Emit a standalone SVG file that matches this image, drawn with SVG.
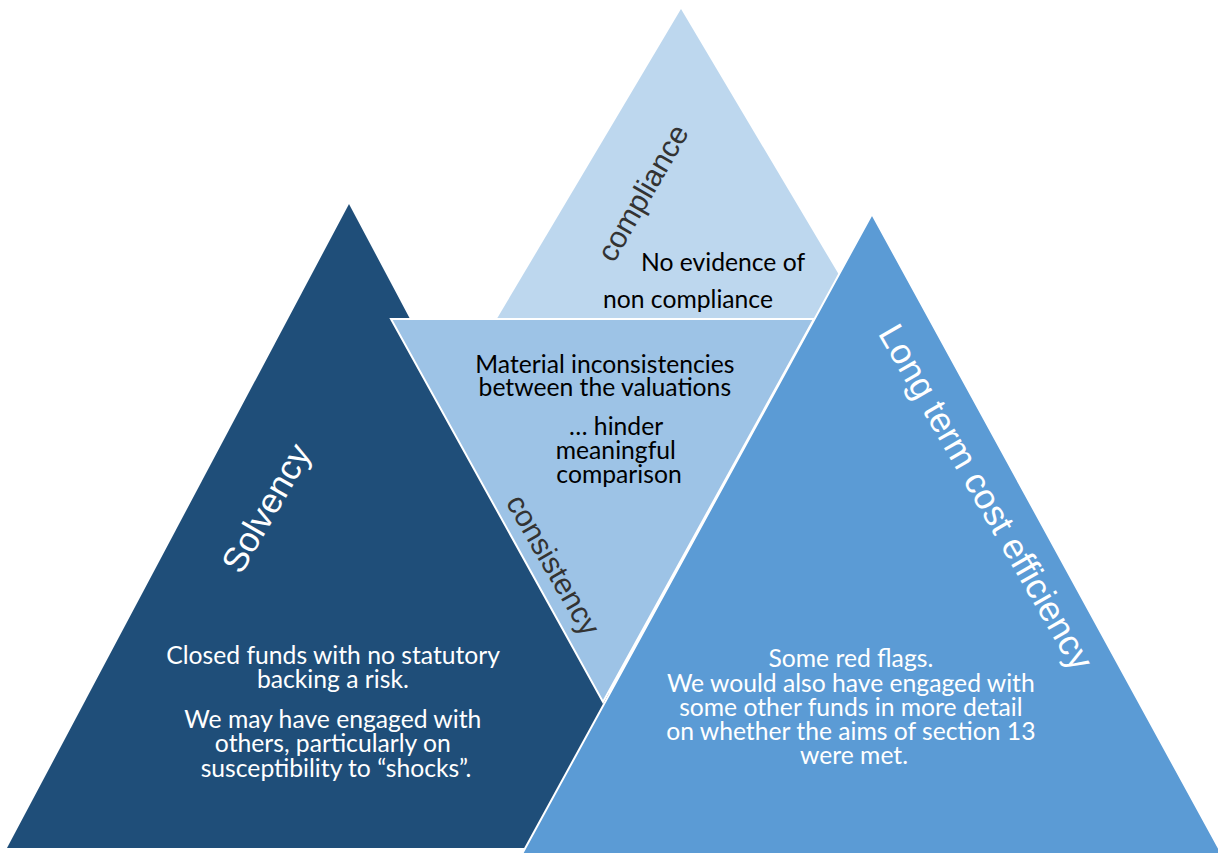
<svg xmlns="http://www.w3.org/2000/svg" width="1218" height="854" viewBox="0 0 1218 854">
  <style>
    .body { font-family: Lato, "Open Sans", "Noto Sans", sans-serif; font-size: 24.7px; text-anchor: middle; }
    .dark { fill: #000000; }
    .light { fill: #ffffff; }
    .label { font-family: "Liberation Sans", Arial, sans-serif; text-anchor: middle; }
    .edge { stroke: #ffffff; stroke-width: 2; stroke-linejoin: miter; }
  </style>
  <rect width="1218" height="854" fill="#ffffff"/>

  <!-- top peak: compliance -->
  <g id="node-compliance">
    <polygon points="681,9 489,332 873,332" fill="#bdd7ee"/>
    <text class="label" font-size="30" fill="#333333" transform="translate(643,193) rotate(-60)" y="10">compliance</text>
    <text class="body dark" x="723" y="271">No evidence of</text>
    <text class="body dark" x="688" y="308">non compliance</text>
  </g>

  <!-- left peak: solvency -->
  <g id="node-solvency">
    <polygon points="349,204 7,848 691,848" fill="#1f4e79"/>
    <text class="label" font-size="35" fill="#ffffff" transform="translate(266,508) rotate(-60)" y="12">Solvency</text>
    <text class="body light">
      <tspan x="336" y="664">Closed funds with no statutory</tspan>
      <tspan x="336" y="688">backing a risk.</tspan>
      <tspan x="336" y="728">We may have engaged with</tspan>
      <tspan x="336" y="752">others, particularly on</tspan>
      <tspan x="336" y="777">susceptibility to “shocks”.</tspan>
    </text>
  </g>

  <!-- inverted centre: consistency -->
  <g id="node-consistency">
    <polygon class="edge" points="391,319 814,319 603,702" fill="#9dc3e6"/>
    <text class="body dark">
      <tspan x="608" y="373">Material inconsistencies</tspan>
      <tspan x="608" y="396">between the valuations</tspan>
      <tspan x="619" y="435">… hinder</tspan>
      <tspan x="619" y="459">meaningful</tspan>
      <tspan x="619" y="483">comparison</tspan>
    </text>
    <text class="label" font-size="30" fill="#333333" transform="translate(553,565) rotate(60)" y="10">consistency</text>
  </g>

  <!-- right peak: long term cost efficiency -->
  <g id="node-cost-efficiency">
    <polygon class="edge" points="872,214 522,854 1222,854" fill="#5b9bd5"/>
    <text class="label" font-size="35.5" fill="#ffffff" transform="translate(986,497) rotate(60)" y="12">Long term cost efficiency</text>
    <text class="body light">
      <tspan x="854" y="667">Some red flags.</tspan>
      <tspan x="854" y="692">We would also have engaged with</tspan>
      <tspan x="854" y="716">some other funds in more detail</tspan>
      <tspan x="854" y="740">on whether the aims of section 13</tspan>
      <tspan x="854" y="764">were met.</tspan>
    </text>
  </g>
</svg>
